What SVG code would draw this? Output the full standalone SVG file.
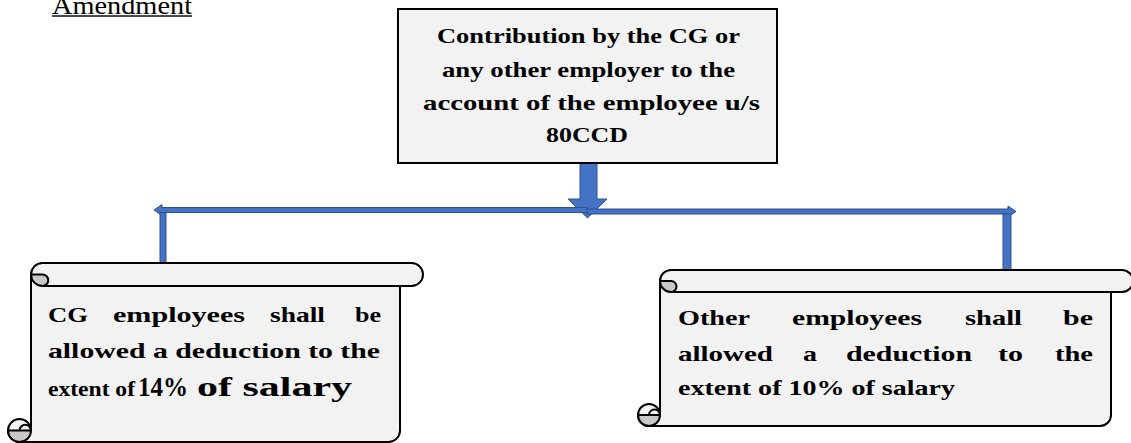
<svg xmlns="http://www.w3.org/2000/svg" width="1131" height="443" viewBox="0 0 1131 443">
  <style>
    .t { font-family: "Liberation Serif", "Times New Roman", serif; font-weight: bold; fill: #000; }
    .box { fill: #f2f2f2; stroke: #000; stroke-width: 2; }
    .scroll { fill: #f2f2f2; stroke: #000; stroke-width: 2; stroke-linejoin: round; }
    .curl { fill: #c8c8c8; stroke: #000; stroke-width: 2; }
    .line { fill: none; stroke: #000; stroke-width: 2; }
    .conn { fill: #4472c4; stroke: #2f528f; stroke-width: 1; }
  </style>

  <!-- heading -->
  <g id="heading">
    <text x="52" y="14" font-family="Liberation Serif, serif" font-size="26" textLength="140" lengthAdjust="spacingAndGlyphs">Amendment</text>
    <rect x="52" y="15.3" width="140" height="1.4" fill="#000"/>
  </g>

  <!-- connectors -->
  <g id="connectors">
    <!-- down arrow from the top box -->
    <polygon class="conn" points="580,155 597,155 597,199 607,199 587.5,218 568,199 580,199"/>
    <!-- left branch -->
    <polygon class="conn" points="587,207.5 162,207.5 162,204.5 154,210 162,215.5 162,212.5 587,212.5"/>
    <rect class="conn" x="160" y="212.5" width="6" height="51"/>
    <!-- right branch -->
    <polygon class="conn" points="587,209 1008,209 1008,206 1016,211.5 1008,217 1008,214 587,214"/>
    <rect class="conn" x="1003" y="214" width="8" height="57"/>
  </g>

  <!-- top box -->
  <g id="node-contribution">
    <rect class="box" x="398" y="9" width="379" height="154"/>
    <text class="t" x="588.5" y="43" font-size="22" text-anchor="middle" textLength="303" lengthAdjust="spacingAndGlyphs">Contribution by the CG or</text>
    <text class="t" x="588.5" y="77" font-size="22" text-anchor="middle" textLength="293" lengthAdjust="spacingAndGlyphs">any other employer to the</text>
    <text class="t" x="591.5" y="110" font-size="22" text-anchor="middle" textLength="337" lengthAdjust="spacingAndGlyphs">account of the employee u/s</text>
    <text class="t" x="587" y="142" font-size="22" text-anchor="middle" textLength="82" lengthAdjust="spacingAndGlyphs">80CCD</text>
  </g>

  <!-- left scroll -->
  <g id="node-cg-employees">
    <path class="scroll" d="M31,274.5 A11.5,11.5 0 0 1 42.5,263 L411.5,263 A11.5,11.5 0 0 1 411.5,286 L400,286 L400,430.5 A11.5,11.5 0 0 1 388.5,442 L19.5,442 A11.5,11.5 0 0 1 8,430.5 A11.5,11.5 0 0 1 19.5,419 A11.5,11.5 0 0 1 31,430.5 Z"/>
    <path class="line" d="M42.5,286 L400,286"/>
    <path class="curl" d="M31,274.5 A11.5,11.5 0 0 0 42.5,286 A5.75,5.75 0 0 0 42.5,274.5 Z"/>
    <path class="curl" d="M8,430.5 A11.5,11.5 0 0 0 31,430.5 Z"/>
    <path class="line" d="M19.5,430.5 A5.75,5.75 0 0 1 31,430.5"/>
    <text class="t" x="48" y="322" font-size="21" textLength="40" lengthAdjust="spacingAndGlyphs">CG</text>
    <text class="t" x="113" y="322" font-size="21" textLength="132" lengthAdjust="spacingAndGlyphs">employees</text>
    <text class="t" x="270" y="322" font-size="21" textLength="55" lengthAdjust="spacingAndGlyphs">shall</text>
    <text class="t" x="355" y="322" font-size="21" textLength="26" lengthAdjust="spacingAndGlyphs">be</text>
    <text class="t" x="48" y="358" font-size="21" textLength="332" lengthAdjust="spacingAndGlyphs">allowed a deduction to the</text>
    <text class="t" x="48" y="396" font-size="21" textLength="87" lengthAdjust="spacingAndGlyphs">extent of</text>
    <text class="t" x="138" y="396" font-size="27" textLength="50" lengthAdjust="spacingAndGlyphs">14%</text>
    <text class="t" x="197" y="396" font-size="27" textLength="155" lengthAdjust="spacingAndGlyphs">of salary</text>
  </g>

  <!-- right scroll -->
  <g id="node-other-employees">
    <path class="scroll" d="M660,281 A11,11 0 0 1 671,270 L1122,270 A11,11 0 0 1 1122,292 L1111,292 L1111,415 A11,11 0 0 1 1100,426 L649,426 A11,11 0 0 1 638,415 A11,11 0 0 1 649,404 A11,11 0 0 1 660,415 Z"/>
    <path class="line" d="M671,292 L1111,292"/>
    <path class="curl" d="M660,281 A11,11 0 0 0 671,292 A5.5,5.5 0 0 0 671,281 Z"/>
    <path class="curl" d="M638,415 A11,11 0 0 0 660,415 Z"/>
    <path class="line" d="M649,415 A5.5,5.5 0 0 1 660,415"/>
    <text class="t" x="678" y="325" font-size="21" textLength="72" lengthAdjust="spacingAndGlyphs">Other</text>
    <text class="t" x="792" y="325" font-size="21" textLength="130" lengthAdjust="spacingAndGlyphs">employees</text>
    <text class="t" x="965" y="325" font-size="21" textLength="57" lengthAdjust="spacingAndGlyphs">shall</text>
    <text class="t" x="1063" y="325" font-size="21" textLength="30" lengthAdjust="spacingAndGlyphs">be</text>
    <text class="t" x="678" y="361" font-size="21" textLength="95" lengthAdjust="spacingAndGlyphs">allowed</text>
    <text class="t" x="803" y="361" font-size="21" textLength="14" lengthAdjust="spacingAndGlyphs">a</text>
    <text class="t" x="846" y="361" font-size="21" textLength="126" lengthAdjust="spacingAndGlyphs">deduction</text>
    <text class="t" x="998" y="361" font-size="21" textLength="25" lengthAdjust="spacingAndGlyphs">to</text>
    <text class="t" x="1055" y="361" font-size="21" textLength="38" lengthAdjust="spacingAndGlyphs">the</text>
    <text class="t" x="678" y="395" font-size="21" textLength="277" lengthAdjust="spacingAndGlyphs">extent of 10% of salary</text>
  </g>
</svg>
